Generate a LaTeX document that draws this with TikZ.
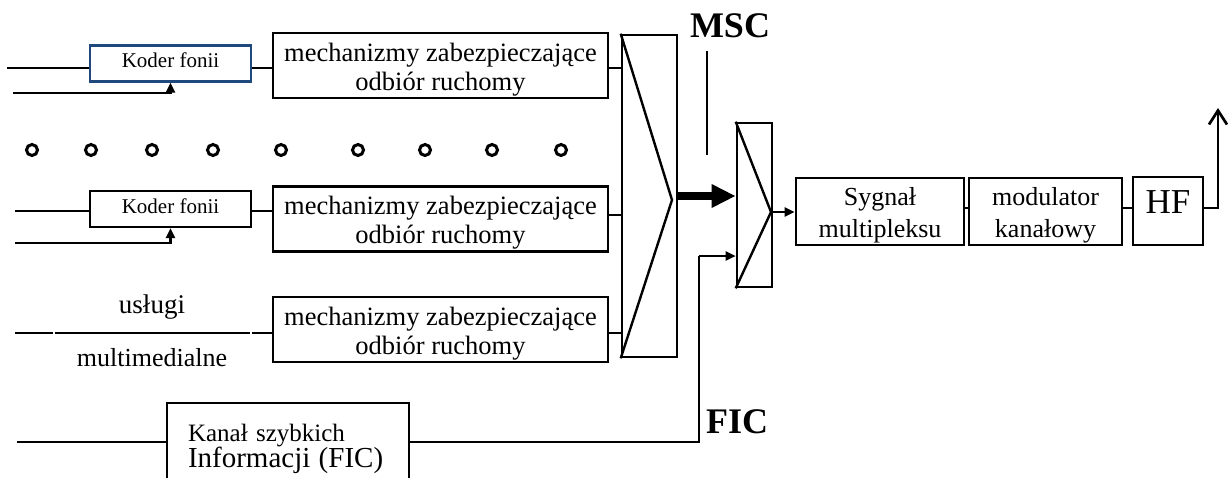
\documentclass[tikz,border=0pt]{standalone}
\usepackage{fontspec}
\setmainfont{Liberation Serif}
\usepackage{tikz}
\usetikzlibrary{arrows.meta, positioning}
\definecolor{koderblue}{HTML}{1F497D}
\tikzset{
  kbox/.style={rectangle,draw,line width=2.2pt,minimum width=161pt,inner sep=0pt,text height=22pt,text depth=14pt,font=\fontsize{21}{24}\selectfont},
  mbox/.style={rectangle,draw,line width=2.7pt,minimum width=335pt,inner sep=0pt,text height=57pt,text depth=8pt,align=center,font=\fontsize{26.5}{29}\selectfont},
  sbox/.style={rectangle,draw,line width=2.7pt,inner sep=0pt,text height=59pt,text depth=8pt,align=center,font=\fontsize{26}{32}\selectfont},
  kanbox/.style={rectangle,draw,line width=2.5pt,minimum width=242pt,text width=200pt,inner xsep=21pt,inner ysep=0pt,text height=38pt,text depth=49pt,align=left,font=\fontsize{25}{26}\selectfont},
  muxbox/.style={rectangle,draw,line width=2.6pt,inner sep=0pt},
  dotc/.style={circle,draw,line width=3pt,minimum size=11pt,inner sep=0pt},
  wire/.style={line width=1.6pt},
  diag/.style={line width=2.4pt},
  ctl/.style={line width=2.5pt,-{Triangle[length=10pt,width=9pt]}},
  arr/.style={line width=2.2pt,-{Triangle[length=10pt,width=9pt]}},
  fat/.style={line width=8pt,-{Triangle[length=24pt,width=22pt]}},
  outarr/.style={line width=2.7pt,-{Straight Barb[length=14pt,width=18pt]}},
  lbl/.style={font=\fontsize{36}{40}\selectfont\bfseries,inner sep=0pt}
}
\begin{document}
\begin{tikzpicture}[x=1pt,y=-1pt]
  \clip (0,0) rectangle (1232,477);

  % Audio services
  \node[kbox,draw=koderblue] (kod1) at (170.5,63.5) {Koder fonii};
  \node[mbox] (mech1) at (440.5,65.5) {mechanizmy zabezpieczające\\odbiór ruchomy};
  \node[kbox] (kod2) at (170.5,209) {Koder fonii};
  \node[mbox] (mech2) at (440.5,219) {mechanizmy zabezpieczające\\odbiór ruchomy};

  \coordinate (in1) at (7,68);
  \coordinate (ct1) at (13,93);
  \draw[wire] (in1) -- (in1 -| kod1.west);
  \draw[ctl] (ct1) -| (kod1.south);
  \draw[wire] (in1 -| kod1.east) -- (in1 -| mech1.west);

  \coordinate (in2) at (15,211);
  \coordinate (ct2) at (15,243);
  \draw[wire] (in2) -- (in2 -| kod2.west);
  \draw[ctl] (ct2) -| (kod2.south);
  \draw[wire] (in2 -| kod2.east) -- (in2 -| mech2.west);

  \foreach \cx [count=\i] in {32,91,152,213,281,358,425,492,561}
    \node[dotc] (dot\i) at (\cx,150) {};

  % Multimedia services
  \node[mbox] (mech3) at (440.5,329.5) {mechanizmy zabezpieczające\\odbiór ruchomy};
  \node[font=\fontsize{27}{30}\selectfont,inner sep=0pt] (usl) at (152,307) {usługi};
  \node[font=\fontsize{26}{30}\selectfont,inner sep=0pt] (mmed) at (152,357.5) {multimedialne};
  \coordinate (in3) at (15,333);
  \draw[wire,dash pattern=on 38pt off 2pt on 195pt off 2pt on 40pt] (in3) -- (in3 -| mech3.west);

  % MSC multiplexer
  \node[muxbox,minimum width=55pt,minimum height=322pt] (mux1) at (649.5,196) {};
  \coordinate (tip1) at (672,200);
  \draw[diag] (mux1.north west) -- (tip1) -- (mux1.south west);
  \draw[wire] (in1 -| mech1.east) -- (in1 -| mux1.west);
  \draw[wire] (mech2.east |- 0,215) -- (mux1.west |- 0,215);
  \draw[wire] (in3 -| mech3.east) -- (in3 -| mux1.west);

  \node[lbl] (msc) at (730,25.5) {MSC};
  \coordinate (msctop) at (707,51);
  \coordinate (mscbot) at (707,155);
  \draw[line width=1.4pt] (msctop) -- (mscbot);

  % Main multiplexer
  \node[muxbox,minimum width=35pt,minimum height=164pt] (mux2) at (754.5,205) {};
  \coordinate (tip2) at (771,212);
  \draw[diag] (mux2.north west) -- (tip2) -- (mux2.south west);
  \draw[fat] (mux1.east) -- (mux1.east -| mux2.west);

  % Transmission chain
  \node[sbox,minimum width=168pt] (sygn) at (880,211.5) {Sygnał\\multipleksu};
  \node[sbox,minimum width=153pt] (mod) at (1045.5,211.5) {modulator\\kanałowy};
  \node[sbox,minimum width=70pt,text height=36pt,text depth=32pt,font=\fontsize{35}{38}\selectfont] (hf) at (1168,211) {HF};
  \coordinate (rf) at (0,208);
  \coordinate (ant) at (1218,108);
  \draw[arr] (tip2) -- (tip2 -| sygn.west);
  \draw[line width=2.7pt] (sygn.east |- rf) -- (mod.west |- rf);
  \draw[line width=2.7pt] (mod.east |- rf) -- (hf.west |- rf);
  \draw[outarr] (hf.east |- rf) -| (ant);

  % FIC
  \node[kanbox] (kan) at (288,446.5) {Kanał szybkich\\\mbox{\fontsize{29}{26}\selectfont Informacji (FIC)}};
  \node[lbl] (fic) at (737,421.5) {FIC};
  \coordinate (ficin) at (17,442);
  \coordinate (ficup) at (699,256);
  \draw[wire] (ficin) -- (ficin -| kan.west);
  \draw[wire,line width=2.2pt] (ficin -| kan.east) -| (ficup);
  \draw[arr] (ficup) -- (ficup -| mux2.west);
\end{tikzpicture}
\end{document}
